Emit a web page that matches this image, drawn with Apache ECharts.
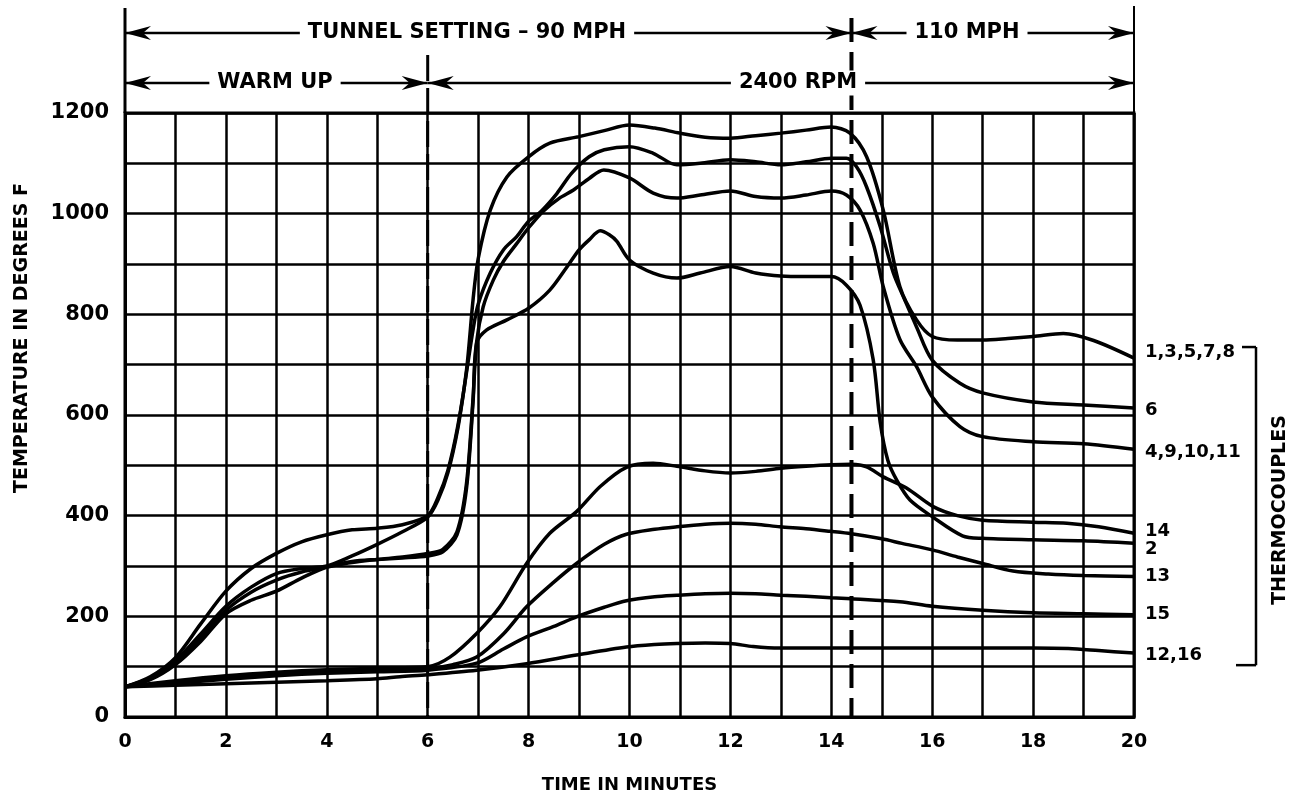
<!DOCTYPE html>
<html>
<head>
<meta charset="utf-8">
<script src="https://cdn.jsdelivr.net/npm/echarts@6/dist/echarts.min.js"></script>
<style>html,body{margin:0;padding:0;background:#fff;}#c{width:1299px;height:796px;}</style>
</head>
<body>
<div id="c"></div>
<script>
// ---- data (time in minutes, temperature in degrees F) ----
const xTicks = [0, 2, 4, 6, 8, 10, 12, 14, 16, 18, 20];
const yTicks = [0, 200, 400, 600, 800, 1000, 1200];
const phaseMarks = [6, 14.4]; // end of warm up, change to 110 MPH

const tc_1_3_5_7_8 = [[0,60],[0.5,80],[1,118],[1.5,185],[2,250],[2.5,295],[3,325],[3.5,348],[4,362],[4.5,372],[5,375],[5.5,382],[6,400],[6.2,435],[6.4,490],[6.6,580],[6.77,690],[6.9,830],[7.0,910],[7.24,1007],[7.57,1073],[8,1113],[8.42,1140],[9,1153],[9.5,1165],[10,1176],[10.5,1170],[11,1160],[11.5,1152],[12,1150],[12.5,1155],[13,1160],[13.5,1166],[14,1172],[14.37,1160],[14.7,1113],[15.03,1007],[15.36,855],[15.69,789],[16,756],[16.5,749],[17,749],[17.5,752],[18,756],[18.6,762],[19.2,748],[20,713]];
const tc_6 = [[0,60],[0.5,78],[1,112],[1.5,165],[2,220],[2.5,258],[3,285],[3.5,295],[4,300],[4.5,320],[5,343],[5.5,368],[6,397],[6.2,430],[6.4,485],[6.6,575],[6.77,685],[6.9,770],[7.0,820],[7.24,882],[7.5,928],[7.76,954],[8,985],[8.25,1005],[8.56,1040],[8.85,1080],[9.2,1113],[9.5,1127],[10,1133],[10.47,1120],[10.94,1097],[11.4,1100],[12,1107],[12.5,1103],[13,1097],[13.5,1103],[14,1110],[14.3,1110],[14.5,1093],[14.7,1053],[14.97,974],[15.23,882],[15.45,830],[15.69,775],[16,709],[16.55,663],[17,644],[18,626],[19,620],[20,614]];
const tc_4_9_10_11 = [[0,60],[0.5,76],[1,108],[1.5,158],[2,212],[2.5,248],[3,272],[3.5,288],[4,298],[4.5,307],[5,313],[5.5,318],[6,325],[6.3,333],[6.58,368],[6.77,465],[6.9,635],[6.97,745],[7.1,815],[7.3,868],[7.5,905],[7.76,940],[8,972],[8.29,1005],[8.6,1030],[8.89,1047],[9.2,1070],[9.49,1087],[10,1071],[10.47,1041],[10.94,1031],[11.4,1037],[12,1045],[12.5,1034],[13,1031],[13.5,1037],[14,1045],[14.3,1037],[14.57,1007],[14.83,941],[15.03,855],[15.36,750],[15.69,696],[16,636],[16.55,577],[17,557],[18,547],[19,543],[20,532]];
const tc_2 = [[0,60],[0.5,74],[1,104],[1.5,150],[2,205],[2.5,232],[3,250],[3.5,276],[4,298],[4.5,309],[5,313],[5.5,316],[6,320],[6.3,328],[6.58,362],[6.77,455],[6.9,628],[6.97,743],[7.17,769],[7.57,789],[8,812],[8.42,848],[8.76,894],[9,928],[9.2,948],[9.42,966],[9.6,958],[9.75,945],[10,908],[10.47,882],[10.94,872],[11.4,882],[12,895],[12.5,882],[13,876],[13.5,875],[14,875],[14.3,858],[14.57,818],[14.83,710],[14.97,585],[15.12,510],[15.3,470],[15.56,431],[16,398],[16.6,360],[17,355],[18,352],[19,350],[20,345]];
const tc_14 = [[0,60],[1,72],[2,82],[3,89],[4,94],[5,97],[6,100],[6.44,119],[6.97,166],[7.43,219],[7.96,305],[8.42,365],[8.95,408],[9.42,458],[9.94,496],[10.47,504],[10.94,498],[11.5,489],[12,485],[12.5,488],[13,494],[13.5,498],[14,501],[14.4,502],[14.7,497],[15.03,477],[15.49,455],[16.02,418],[16.5,400],[17,391],[18,387],[18.67,385],[19.3,378],[20,365]];
const tc_13 = [[0,60],[1,70],[2,79],[3,86],[4,90],[5,93],[6,96],[6.5,104],[6.97,119],[7.5,165],[7.96,219],[8.5,268],[8.95,305],[9.5,343],[9.94,363],[10.5,373],[10.94,378],[11.5,383],[12,385],[12.5,383],[12.98,378],[13.5,374],[13.97,369],[14.4,364],[15,354],[15.4,345],[16,332],[16.5,318],[17,305],[17.6,290],[18.3,284],[19,281],[20,279]];
const tc_15 = [[0,60],[1,67],[2,75],[3,82],[4,87],[5,90],[6,93],[6.97,107],[7.5,135],[7.96,159],[8.5,180],[8.95,199],[9.5,218],[9.94,231],[10.5,239],[10.94,242],[11.5,245],[12,246],[12.5,245],[13,242],[13.5,240],[14,237],[14.4,235],[15.36,229],[16,220],[17,212],[18,207],[19,205],[20,203]];
const tc_12_16 = [[0,60],[1,63],[2,66],[3,69],[4,72],[5,76],[5.45,80],[6,84],[6.97,93],[7.96,106],[8.95,123],[9.94,139],[10.5,144],[10.94,146],[11.5,147],[12,146],[12.45,140],[12.98,137],[14,137],[15,137],[16,137],[17,137],[18,137],[18.7,136],[19.3,132],[20,127]];

const seriesNames = ['1,3,5,7,8', '6', '4,9,10,11', '14', '2', '13', '15', '12,16'];
const seriesData = [tc_1_3_5_7_8, tc_6, tc_4_9_10_11, tc_14, tc_2, tc_13, tc_15, tc_12_16];
const labelOffsets = [[3,-6],[3,2],[3,3],[3,-2],[3,6],[3,0],[3,0],[3,2]];

const FONT = 'DejaVu Sans';
const chart = echarts.init(document.getElementById('c'), null, {renderer: 'canvas'});

const option = {
  animation: false,
  backgroundColor: '#fff',
  grid: {left: 125, right: 165, top: 113, bottom: 79, outerBoundsMode: 'none', containLabel: false,
    show: true, borderColor: '#000', borderWidth: 3, backgroundColor: 'transparent'},
  xAxis: {
    type: 'value', min: 0, max: 20, interval: 1,
    name: 'TIME IN MINUTES', nameLocation: 'middle', nameGap: 59,
    nameTextStyle: {fontFamily: FONT, fontSize: 18, fontWeight: 'bold', color: '#000'},
    axisLine: {lineStyle: {color: '#000', width: 3}},
    axisTick: {show: false},
    axisLabel: {margin: 16, fontFamily: FONT, fontSize: 19, fontWeight: 'bold', color: '#000',
      formatter: v => (xTicks.indexOf(v) >= 0 ? String(v) : '')},
    splitLine: {show: true, lineStyle: {color: '#000', width: 2.5}}
  },
  yAxis: {
    type: 'value', min: 0, max: 1200, interval: 100,
    axisLine: {lineStyle: {color: '#000', width: 3}},
    axisTick: {show: false},
    axisLabel: {margin: 16, fontFamily: FONT, fontSize: 21, fontWeight: 'bold', color: '#000',
      formatter: v => (yTicks.indexOf(v) >= 0 ? String(v) : '')},
    splitLine: {show: true, lineStyle: {color: '#000', width: 2.5}}
  },
  series: seriesNames.map((n, i) => ({
    name: n, type: 'line', data: seriesData[i], smooth: 0.3,
    showSymbol: false, symbol: 'none',
    lineStyle: {color: '#000', width: 3.5},
    z: 5,
    endLabel: {show: true, formatter: n, offset: labelOffsets[i], color: '#000',
      fontFamily: FONT, fontSize: 18, fontWeight: 'bold'}
  }))
};
chart.setOption(option);

// ---- annotations, positioned through the chart's own scales ----
const px = v => chart.convertToPixel({gridIndex: 0}, [v, 0])[0];
const py = v => chart.convertToPixel({gridIndex: 0}, [0, v])[1];
const x0 = px(0), x20 = px(20), xW = px(phaseMarks[0]), xS = px(phaseMarks[1]);
const yTop = py(1200), yBot = py(0);
const row1 = yTop - 80, row2 = yTop - 30;
const G = [];
const line = (x1, y1, x2, y2, w, dash) => G.push({type: 'line', z: 10,
  shape: {x1, y1, x2, y2}, style: {stroke: '#000', lineWidth: w || 2, lineDash: dash || null}});
const arrow = (x, y, dir) => G.push({type: 'polygon', z: 11,
  shape: {points: [[x, y], [x - dir * 26, y - 7], [x - dir * 18, y], [x - dir * 26, y + 7]]},
  style: {fill: '#000'}});
const text = (t, x, y, size, rot) => G.push({type: 'text', z: 12, x, y, rotation: rot || 0,
  style: {text: t, x: 0, y: 0, align: 'center', verticalAlign: 'middle', fill: '#000',
    fontFamily: FONT, fontSize: size, fontWeight: 'bold', backgroundColor: '#fff', padding: [2, 8]}});

// extended frame verticals
line(x0, 8, x0, yTop, 3);
line(x20, 6, x20, yTop, 2);
// phase dashed lines
line(xW, row2 - 28, xW, yBot, 3, [26, 7]);
line(xS, 18, xS, yBot, 4, [24, 10]);
// row 1
line(x0, row1, xS, row1, 2.5); arrow(x0, row1, -1); arrow(xS, row1, 1);
line(xS, row1, x20, row1, 2.5); arrow(xS, row1, -1); arrow(x20, row1, 1);
text('TUNNEL SETTING – 90 MPH', 467, row1, 21);
text('110 MPH', 967, row1, 21);
// row 2
line(x0, row2, xW, row2, 2.5); arrow(x0, row2, -1); arrow(xW, row2, 1);
line(xW, row2, x20, row2, 2.5); arrow(xW, row2, -1); arrow(x20, row2, 1);
text('WARM UP', 275, row2, 21);
text('2400 RPM', 798, row2, 21);
line(xS - 8, row2, xS + 8, row2, 2);
// y axis title
G.push({type: 'text', z: 12, x: 22, y: 338, rotation: Math.PI / 2,
  style: {text: 'TEMPERATURE IN DEGREES F', x: 0, y: 0, align: 'center', verticalAlign: 'middle',
    fill: '#000', fontFamily: FONT, fontSize: 19, fontWeight: 'bold'}});
// thermocouple bracket
const bx = 1256, bTop = py(735), bBot = py(103);
line(bx, bTop, bx, bBot, 2.5);
line(bx - 14, bTop, bx, bTop, 2.5);
line(bx - 20, bBot, bx, bBot, 2.5);
G.push({type: 'text', z: 12, x: 1280, y: 510, rotation: Math.PI / 2,
  style: {text: 'THERMOCOUPLES', x: 0, y: 0, align: 'center', verticalAlign: 'middle',
    fill: '#000', fontFamily: FONT, fontSize: 19, fontWeight: 'bold'}});

chart.setOption({graphic: G});
</script>
</body>
</html>
